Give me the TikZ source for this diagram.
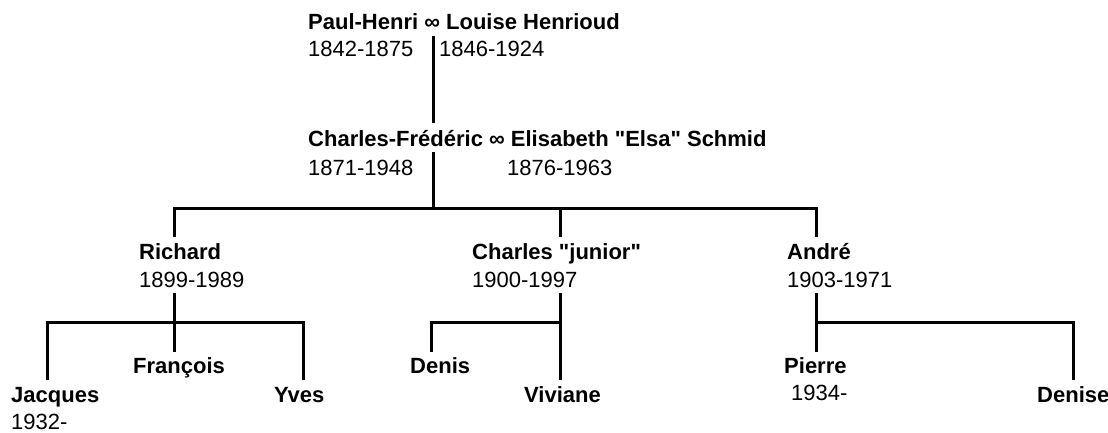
\documentclass[tikz,border=0pt]{standalone}
\usepackage{fontspec}
\setmainfont{Liberation Sans}
\tikzset{
    person/.style={font=\bfseries\fontsize{22}{26}\selectfont,inner sep=0pt,anchor=base west},
    dates/.style={font=\fontsize{22}{26}\selectfont,inner sep=0pt,anchor=base west},
    link/.style={line width=3pt}
}
\begin{document}
\begin{tikzpicture}[x=1pt,y=-1pt]
                \useasboundingbox (0,0) rectangle (1108,432);
                % couples
                \node[person] (ph) at (308,29) {Paul-Henri ∞ Louise Henrioud};
                \node[dates] (phd) at (308,56) {1842-1875};
                \node[dates] (lhd) at (439,56) {1846-1924};
                \node[person] (cf) at (308,146) {Charles-Frédéric ∞ Elisabeth \textquotedbl Elsa\textquotedbl{} Schmid};
                \node[dates] (cfd) at (308,175) {1871-1948};
                \node[dates] (esd) at (507,175) {1876-1963};
                % children
                \node[person] (ri) at (139,259) {Richard};
                \node[dates] (rid) at (139,287) {1899-1989};
                \node[person] (ch) at (472,259) {Charles \textquotedbl junior\textquotedbl};
                \node[dates] (chd) at (472,287) {1900-1997};
                \node[person] (an) at (787,259) {André};
                \node[dates] (and) at (787,287) {1903-1971};
                % grandchildren
                \node[person] (ja) at (11,402) {Jacques};
                \node[dates] (jad) at (11,429) {1932-};
                \node[person] (fr) at (133,373) {François};
                \node[person] (yv) at (274,402) {Yves};
                \node[person] (de) at (410,373) {Denis};
                \node[person] (vi) at (524,402) {Viviane};
                \node[person] (pi) at (784,373) {Pierre};
                \node[dates] (pid) at (791,400) {1934-};
                \node[person] (ds) at (1037,402) {Denise};
                % joints
                \coordinate (phS) at (433,36);
                \coordinate (cfN) at (433,123);
                \coordinate (cfS) at (433,152);
                \coordinate (bus) at (433,208);
                \coordinate (riN) at (174,237);
                \coordinate (chN) at (560,237);
                \coordinate (anN) at (816,237);
                \coordinate (riS) at (174,293);
                \coordinate (chS) at (560,293);
                \coordinate (anS) at (816,293);
                \coordinate (riB) at (174,322);
                \coordinate (chB) at (560,322);
                \coordinate (anB) at (816,322);
                \coordinate (jaN) at (47,380);
                \coordinate (frN) at (174,352);
                \coordinate (yvN) at (303,380);
                \coordinate (deN) at (431,352);
                \coordinate (viN) at (560,380);
                \coordinate (piN) at (816,352);
                \coordinate (dsN) at (1073,380);
                % lines
                \draw[link] (phS) -- (cfN);
                \draw[link] (cfS) -- (bus);
                \draw[link] (riN) |- (bus) -| (anN);
                \draw[link] (chN) -- (chN |- bus);
                \draw[link] (riS) -- (frN);
                \draw[link] (jaN) |- (riB) -| (yvN);
                \draw[link] (chS) -- (viN);
                \draw[link] (deN) |- (chB);
                \draw[link] (anS) -- (piN);
                \draw[link] (anB) -| (dsN);
\end{tikzpicture}
\end{document}
